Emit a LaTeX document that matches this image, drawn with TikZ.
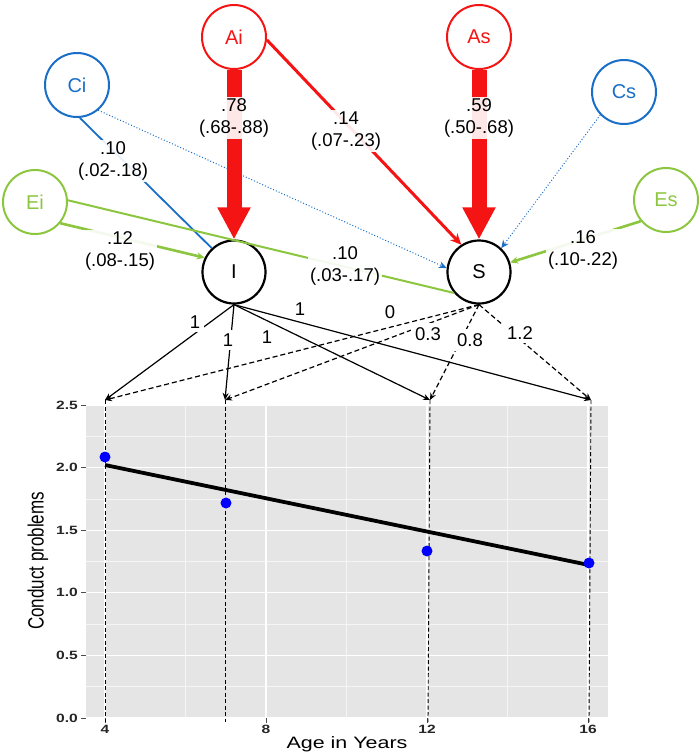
\documentclass[tikz,border=0pt]{standalone}
\usepackage{fontspec}
\setmainfont{Liberation Sans}
\usetikzlibrary{arrows.meta}
\definecolor{ared}{RGB}{245,20,20}
\definecolor{cblue}{RGB}{25,110,200}
\definecolor{egreen}{RGB}{140,198,63}
\definecolor{panelgray}{RGB}{229,229,229}
\newcommand{\labfont}{\fontsize{18.5}{22}\selectfont}
\newcommand{\tickfont}{\fontsize{12}{14}\selectfont\bfseries}
\newcommand{\hstr}[1]{\scalebox{1.3}[1]{#1}}
\begin{document}
\begin{tikzpicture}[x=1pt,y=-1pt,
  latent/.style={circle, draw, line width=2pt, minimum size=64pt, inner sep=0pt, font=\fontsize{20}{22}\selectfont},
  factor/.style={circle, draw=black, line width=2.2pt, minimum size=63pt, inner sep=0pt, font=\fontsize{20}{22}\selectfont},
  estlab/.style={fill=white, fill opacity=0.9, text opacity=1, align=center, inner sep=2pt, font=\labfont},
  loadlab/.style={fill=white, inner sep=4pt, font=\labfont},
  bigarrow/.style={ared, line width=15pt, -{Triangle[length=32pt,width=31pt]}},
  smalltip/.style={-{Stealth[length=8pt,width=7pt]}},
  loadline/.style={line width=1.2pt, -{Stealth[length=7pt,width=6pt]}},
  loaddash/.style={loadline, dash pattern=on 5pt off 3pt},
  vdash/.style={line width=0.9pt, dash pattern=on 4pt off 2.5pt},
  majgrid/.style={white, line width=1.1pt},
  mingrid/.style={white!60!panelgray, line width=0.6pt},
  tickl/.style={font=\tickfont, text=black!85, inner sep=1pt},
  datapt/.style={circle, fill=blue, inner sep=0pt, minimum width=11pt, minimum height=10pt}
]
\useasboundingbox (0,0) rectangle (700,756);

% ---------- plot panel ----------
\fill[panelgray] (86,405) rectangle (608,718);
\foreach \yy in {0.25,0.75,1.25,1.75,2.25}
  \draw[mingrid] (86,{718-\yy*125.2}) -- (608,{718-\yy*125.2});
\foreach \xx in {6,10,14}
  \draw[mingrid] ({105+(\xx-4)*40.25},405) -- ({105+(\xx-4)*40.25},718);
\foreach \yy in {0,0.5,1,1.5,2,2.5}
  \draw[majgrid] (86,{718-\yy*125.2}) -- (608,{718-\yy*125.2});
\foreach \xx in {4,8,12,16}
  \draw[majgrid] ({105+(\xx-4)*40.25},405) -- ({105+(\xx-4)*40.25},718);
% ticks and tick labels
\foreach \yy/\lab in {0/0.0,0.5/0.5,1/1.0,1.5/1.5,2/2.0,2.5/2.5} {
  \draw[black!70, line width=0.8pt] (81,{718-\yy*125.2}) -- (86,{718-\yy*125.2});
  \node[tickl, anchor=east] at (79,{718-\yy*125.2}) {\hstr{\lab}};
}
\foreach \xx in {4,8,12,16} {
  \draw[black!70, line width=0.8pt] ({105+(\xx-4)*40.25},718) -- ({105+(\xx-4)*40.25},723);
  \node[tickl, anchor=north] at ({105+(\xx-4)*40.25},724) {\hstr{\xx}};
}
\node[font=\fontsize{16.5}{18}\selectfont] (xtitle) at (347,744) {\hstr{Age in Years}};
\node[font=\fontsize{17}{19}\selectfont] (ytitle) at (38,561) {\hstr{\rotatebox{90}{Conduct problems}}};

% targets
\coordinate (t4) at (105,400);
\coordinate (t7) at (225,400);
\coordinate (t12) at (430,400);
\coordinate (t16) at (591,400);
\coordinate (b4) at (105,722);
\coordinate (b7) at (225,722);
\coordinate (b12) at (428,722);
\coordinate (b16) at (589,722);
\draw[vdash] (t4) -- (b4);
\draw[vdash] (t7) -- (b7);
\draw[vdash] (t12) -- (b12);
\draw[vdash] (t16) -- (b16);

% regression line and data
\coordinate (r0) at (105,465);
\coordinate (r1) at (589,565);
\draw[line width=3.8pt] (r0) -- (r1);
\node[datapt] (p4) at (105,457) {};
\node[datapt] (p7) at (226,503) {};
\node[datapt] (p12) at (427,551) {};
\node[datapt] (p16) at (589,563) {};

% ---------- path model ----------
\node[latent, draw=ared, text=ared] (Ai) at (234,37) {Ai};
\node[latent, draw=ared, text=ared] (As) at (479,37) {As};
\node[latent, draw=cblue, text=cblue] (Ci) at (77,85) {Ci};
\node[latent, draw=cblue, text=cblue] (Cs) at (624,92) {Cs};
\node[latent, draw=egreen, text=egreen] (Ei) at (35,202) {Ei};
\node[latent, draw=egreen, text=egreen] (Es) at (666,200) {Es};
\node[factor] (I) at (234,272) {I};
\node[factor] (S) at (479,272) {S};

% paths
\draw[cblue, line width=1pt, dotted, smalltip] (Ci.-50) -- (S.173);
\draw[cblue, line width=1pt, dotted, smalltip] (Cs.-136) -- (S.47);
\draw[cblue, line width=1.8pt] (Ci.-85) -- (I.133);
\draw[egreen, line width=2pt] (Ei.3) -- (S.220);
\draw[egreen, line width=2.6pt, smalltip] (Ei.-40) -- (I.154);
\draw[egreen, line width=2.6pt, smalltip] (Es.-140) -- (S.17);
\draw[ared, line width=3pt, -{Stealth[length=11pt,width=10pt]}] (Ai.-5) -- (S.123);
\draw[bigarrow] (Ai) -- (I);
\draw[bigarrow] (As) -- (S);

\node[estlab] (l78) at (234,118) {.78\\(.68-.88)};
\node[estlab] (l59) at (479,118) {.59\\(.50-.68)};
\node[estlab] (l14) at (346,131) {.14\\(.07-.23)};
\node[estlab] (l10c) at (113,161) {.10\\(.02-.18)};
\node[estlab] (l12) at (120,251) {.12\\(.08-.15)};
\node[estlab] (l10e) at (345,266) {.10\\(.03-.17)};
\node[estlab] (l16) at (583,250) {.16\\(.10-.22)};

% loadings
\draw[loadline] (I.south) -- (t4);
\draw[loadline] (I.south) -- (t7);
\draw[loadline] (I.south) -- (t12);
\draw[loadline] (I.south) -- (t16);
\draw[loaddash] (S.south) -- (t4);
\draw[loaddash] (S.south) -- (t7);
\draw[loaddash] (S.south) -- (t12);
\draw[loaddash] (S.south) -- (t16);

\node[loadlab] (li4) at (195,322) {1};
\node[loadlab] (li7) at (228,340) {1};
\node[loadlab] (li12) at (267,337) {1};
\node[loadlab] (li16) at (300,309) {1};
\node[loadlab] (ls4) at (390,312) {0};
\node[loadlab] (ls7) at (428,334) {0.3};
\node[loadlab] (ls12) at (470,340) {0.8};
\node[loadlab] (ls16) at (520,333) {1.2};
\end{tikzpicture}
\end{document}
